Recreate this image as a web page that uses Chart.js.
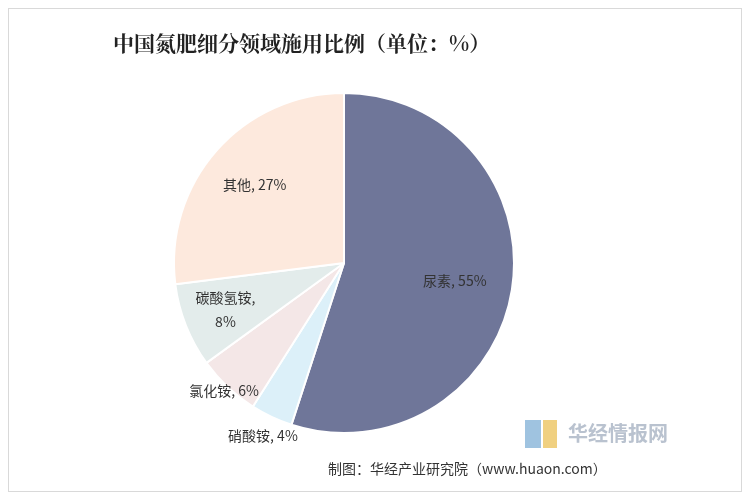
<!DOCTYPE html>
<html><head><meta charset="utf-8">
<script src="https://cdn.jsdelivr.net/npm/chart.js@4/dist/chart.umd.min.js"></script>
<style>html,body{margin:0;padding:0;background:#fff}#w{width:750px;height:500px;position:relative}</style>
</head><body><div id="w"><canvas id="c"></canvas></div>
<script>
const categories = ['尿素','硝酸铵','氯化铵','碳酸氢铵','其他'];
const values = [55,4,6,8,27];
const labelLines = [['尿素, 55%'],['硝酸铵, 4%'],['氯化铵, 6%'],['碳酸氢铵,','8%'],['其他, 27%']];
const colors = ['#6f7699','#dcf0f9','#f4e7e7','#e3eceb','#fde9dd'];
const labelRadius = [0.66,1.12,1.03,0.75,0.7];

const deco = {
  id:'deco',
  beforeDraw(ch){
    const c=ch.ctx; c.save();
    c.strokeStyle='#d9d9d9'; c.lineWidth=1; c.strokeRect(8.5,8.5,733,483);
    c.restore();
  },
  afterDraw(ch){
    const c=ch.ctx; c.save();
    c.fillStyle='#222'; c.font='bold 21px "Noto Serif CJK SC","Noto Sans CJK SC",serif';
    c.textBaseline='middle'; c.fillText('中国氮肥细分领域施用比例（单位：%）',113,43);
    c.font='14px "Noto Sans CJK SC",sans-serif'; c.fillStyle='#333';
    c.fillText('制图：华经产业研究院（www.huaon.com）',328,469);
    c.font='bold 20px "Noto Sans CJK SC",sans-serif'; c.fillStyle='#b9c2cf';
    c.fillText('华经情报网',568,433);
    c.fillStyle='#9fc3e0'; c.fillRect(525,420,16,28);
    c.fillStyle='#f0d080'; c.fillRect(543,420,14,28);
    const meta=ch.getDatasetMeta(0);
    c.font='14px "Noto Sans CJK SC",sans-serif'; c.fillStyle='#333'; c.textAlign='center';
    meta.data.forEach((a,i)=>{
      const m=(a.startAngle+a.endAngle)/2, r=a.outerRadius*labelRadius[i];
      const x=a.x+Math.cos(m)*r, y=a.y+Math.sin(m)*r;
      const L=labelLines[i];
      L.forEach((t,j)=>c.fillText(t,x,y+(j-(L.length-1)/2)*24));
    });
    c.restore();
  }
};
new Chart(document.getElementById('c'),{
  type:'pie',
  data:{labels:categories,datasets:[{data:values,backgroundColor:colors,borderColor:'#fff',borderWidth:2}]},
  options:{responsive:true,maintainAspectRatio:false,animation:false,
    layout:{padding:{left:173,right:235,top:92,bottom:66}},
    plugins:{legend:{display:false},tooltip:{enabled:false}}},
  plugins:[deco]
});
</script></body></html>
